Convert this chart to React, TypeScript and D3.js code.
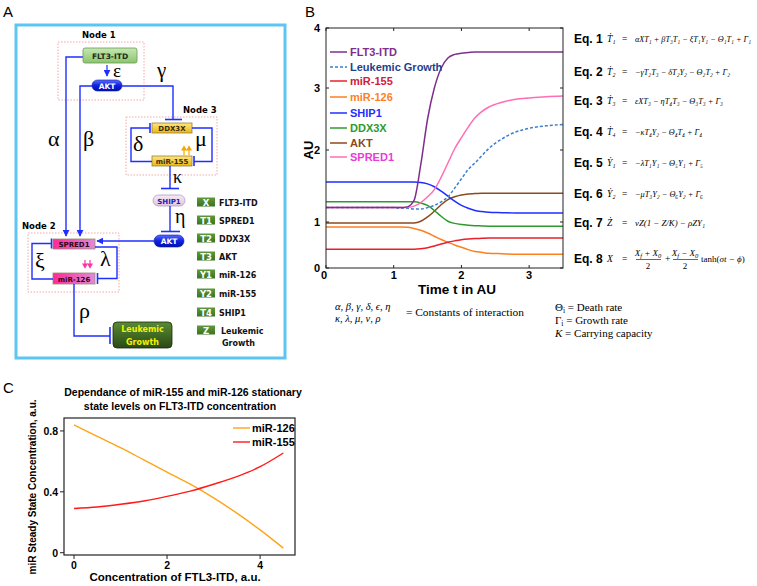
import React from 'react';
import * as d3 from 'd3';

// ---------- Panel B data ----------
const timeGrid = [0, 0.5, 1.0, 1.1, 1.2, 1.3, 1.4, 1.5, 1.6, 1.7, 1.8, 1.9, 2.0, 2.1, 2.2, 2.3, 2.4, 2.6, 2.8, 3.0, 3.25, 3.5];
const flt3Values = [1.2, 1.2, 1.2, 1.2, 1.21, 1.3, 1.8, 2.5, 3.0, 3.33, 3.5, 3.56, 3.58, 3.59, 3.6, 3.6, 3.6, 3.6, 3.6, 3.6, 3.6, 3.6];
const leukemicValues = [1.2, 1.2, 1.2, 1.19, 1.19, 1.18, 1.18, 1.2, 1.23, 1.28, 1.35, 1.47, 1.6, 1.73, 1.82, 1.92, 2.02, 2.18, 2.29, 2.35, 2.39, 2.41];
const mir155Values = [0.41, 0.41, 0.41, 0.41, 0.41, 0.41, 0.42, 0.44, 0.48, 0.52, 0.56, 0.59, 0.615, 0.63, 0.64, 0.645, 0.65, 0.65, 0.65, 0.65, 0.65, 0.65];
const mir126Values = [0.89, 0.89, 0.89, 0.89, 0.885, 0.86, 0.82, 0.76, 0.69, 0.62, 0.56, 0.5, 0.45, 0.4, 0.36, 0.34, 0.32, 0.31, 0.3, 0.3, 0.3, 0.3];
const ship1Values = [1.555, 1.555, 1.555, 1.555, 1.555, 1.555, 1.55, 1.53, 1.49, 1.43, 1.36, 1.29, 1.23, 1.19, 1.16, 1.145, 1.135, 1.13, 1.125, 1.125, 1.125, 1.125];
const ddx3xValues = [1.28, 1.28, 1.28, 1.28, 1.28, 1.28, 1.265, 1.23, 1.16, 1.08, 1.01, 0.97, 0.945, 0.93, 0.92, 0.915, 0.91, 0.91, 0.91, 0.91, 0.91, 0.91];
const aktValues = [0.98, 0.98, 0.98, 0.98, 0.98, 0.98, 1.01, 1.07, 1.15, 1.24, 1.31, 1.35, 1.375, 1.39, 1.395, 1.4, 1.4, 1.4, 1.4, 1.4, 1.4, 1.4];
const spred1Values = [1.2, 1.2, 1.2, 1.2, 1.2, 1.22, 1.27, 1.35, 1.45, 1.62, 1.82, 2.02, 2.2, 2.37, 2.52, 2.62, 2.69, 2.77, 2.82, 2.84, 2.86, 2.87];
const seriesNamesB = ['FLT3-ITD', 'Leukemic Growth', 'miR-155', 'miR-126', 'SHIP1', 'DDX3X', 'AKT', 'SPRED1'];
const yTicksB = [0, 1, 2, 3, 4];
const xTicksB = [0, 1, 2, 3];

// ---------- Panel C data ----------
const flt3Conc = [0, 0.5, 1, 1.5, 2, 2.5, 3, 3.5, 4, 4.5];
const mir126Steady = [0.84, 0.765, 0.69, 0.61, 0.53, 0.45, 0.36, 0.26, 0.15, 0.03];
const mir155Steady = [0.29, 0.3, 0.318, 0.34, 0.37, 0.405, 0.45, 0.5, 0.565, 0.655];
const seriesNamesC = ['miR-126', 'miR-155'];
const xTicksC = [0, 2, 4];
const yTicksC = [0, 0.4, 0.8];

// ---------- Panel A legend ----------
const legendACodes = ['X', 'T1', 'T2', 'T3', 'Y1', 'Y2', 'T4', 'Z'];
const legendANames = ['FLT3-ITD', 'SPRED1', 'DDX3X', 'AKT', 'miR-126', 'miR-155', 'SHIP1', 'Leukemic'];

// ---------- Equations ----------
const eqLhs = ['Ṫ₁', 'Ṫ₂', 'Ṫ₃', 'Ṫ₄', 'Ẏ₁', 'Ẏ₂', 'Ż'];
const eqRhs = [
  'αXT₁ + βT₃T₁ − ξT₁Y₁ − Θ₁T₁ + Γ₁',
  '−γT₂T₃ − δT₂Y₂ − Θ₂T₂ + Γ₂',
  'εXT₃ − ηT₄T₃ − Θ₃T₃ + Γ₃',
  '−κT₄Y₂ − Θ₄T₄ + Γ₄',
  '−λT₁Y₁ − Θ₅Y₁ + Γ₅',
  '−μT₃Y₂ − Θ₆Y₂ + Γ₆',
  'νZ(1 − Z/K) − ρZY₁',
];

const SANS = 'Liberation Sans, Arial, Helvetica, sans-serif';
const SERIF = 'Liberation Serif, DejaVu Serif, Times New Roman, serif';
const DEJA = 'DejaVu Sans, Verdana, sans-serif';
const BLUE = '#1f2fff';

function TBarV({ x, y1, y2 }: { x: number; y1: number; y2: number }) {
  return <line x1={x} x2={x} y1={y1} y2={y2} stroke={BLUE} strokeWidth={1.6} />;
}
function TBarH({ y, x1, x2 }: { y: number; x1: number; x2: number }) {
  return <line x1={x1} x2={x2} y1={y} y2={y} stroke={BLUE} strokeWidth={1.6} />;
}

export default function App() {
  // Panel B scales
  const xB = d3.scaleLinear().domain([0, 3.5]).range([326, 563]);
  const yB = d3.scaleLinear().domain(yTicksB).range([268, 222, 150, 88, 28]);
  const lineB = d3
    .line<number>()
    .x((_, i) => xB(timeGrid[i]))
    .y((d) => yB(d))
    .curve(d3.curveMonotoneX);
  const seriesB = [
    { name: seriesNamesB[0], values: flt3Values, color: '#7e2f8e', text: '#7e2f8e', dash: '' },
    { name: seriesNamesB[1], values: leukemicValues, color: '#3a7fd0', text: '#1f3f8f', dash: '3,2' },
    { name: seriesNamesB[2], values: mir155Values, color: '#e8202a', text: '#d0203a', dash: '' },
    { name: seriesNamesB[3], values: mir126Values, color: '#ff7f1f', text: '#ff7f1f', dash: '' },
    { name: seriesNamesB[4], values: ship1Values, color: '#1f2fff', text: '#1f2fff', dash: '' },
    { name: seriesNamesB[5], values: ddx3xValues, color: '#2e9a2e', text: '#2e9a2e', dash: '' },
    { name: seriesNamesB[6], values: aktValues, color: '#8b4a1f', text: '#8b4a1f', dash: '' },
    { name: seriesNamesB[7], values: spred1Values, color: '#ff6eb4', text: '#e83bd8', dash: '' },
  ];
  const drawOrder = [6, 5, 4, 3, 2, 1, 7, 0];

  // Panel C scales
  const xC = d3.scaleLinear().domain([-0.215, 4.75]).range([64, 295]);
  const yC = d3.scaleLinear().domain([-0.015, 0.885]).range([555, 418]);
  const lineC = d3
    .line<number>()
    .x((_, i) => xC(flt3Conc[i]))
    .y((d) => yC(d))
    .curve(d3.curveMonotoneX);
  const seriesC = [
    { name: seriesNamesC[0], values: mir126Steady, color: '#ffa31a' },
    { name: seriesNamesC[1], values: mir155Steady, color: '#ff1a1a' },
  ];

  const eqY = [39, 72, 101, 132, 163, 194, 223];
  const eqW = [116, 95, 88, 67, 68, 68, 70];

  return (
    <svg width={757} height={586} style={{ position: 'absolute', left: 0, top: 0, background: '#fff' }}>
      <defs>
        <marker id="arr" viewBox="0 0 10 10" refX="9" refY="5" markerWidth="7" markerHeight="7" markerUnits="userSpaceOnUse" orient="auto">
          <path d="M0,0 L10,5 L0,10 z" fill={BLUE} />
        </marker>
        <linearGradient id="gGreen" x1="0" y1="0" x2="0" y2="1">
          <stop offset="0" stopColor="#c6e8b2" />
          <stop offset="1" stopColor="#8cc46e" />
        </linearGradient>
        <linearGradient id="gBlue" x1="0" y1="0" x2="0" y2="1">
          <stop offset="0" stopColor="#5a6cff" />
          <stop offset="0.5" stopColor="#1020e0" />
          <stop offset="1" stopColor="#0010b0" />
        </linearGradient>
        <linearGradient id="gYellow" x1="0" y1="0" x2="0" y2="1">
          <stop offset="0" stopColor="#ffe680" />
          <stop offset="1" stopColor="#e8b810" />
        </linearGradient>
        <linearGradient id="gPink" x1="0" y1="0" x2="1" y2="0">
          <stop offset="0" stopColor="#ff2a96" />
          <stop offset="1" stopColor="#e08ad8" />
        </linearGradient>
        <linearGradient id="gShip" x1="0" y1="0" x2="0" y2="1">
          <stop offset="0" stopColor="#f6eaf4" />
          <stop offset="1" stopColor="#e6c4d8" />
        </linearGradient>
        <linearGradient id="gLeuk" x1="0" y1="0" x2="0" y2="1">
          <stop offset="0" stopColor="#5a8a34" />
          <stop offset="1" stopColor="#2a4a14" />
        </linearGradient>
        <linearGradient id="gCode" x1="0" y1="0" x2="0" y2="1">
          <stop offset="0" stopColor="#5e9a3a" />
          <stop offset="1" stopColor="#3c7222" />
        </linearGradient>
      </defs>

      {/* Panel letters */}
      <text x={3} y={17} fontFamily={SANS} fontSize={15}>A</text>
      <text x={305} y={17} fontFamily={SANS} fontSize={15}>B</text>
      <text x={3} y={393} fontFamily={SANS} fontSize={15}>C</text>

      {/* ================= Panel A ================= */}
      <rect x={16} y={25} width={269} height={333} fill="none" stroke="#5cc6f2" strokeWidth={3} />

      {/* Node boxes */}
      <rect x={58} y={42} width={86} height={58} fill="none" stroke="#f29090" strokeWidth={0.8} strokeDasharray="1.5,1.5" />
      <rect x={126} y={117} width={91} height={58} fill="none" stroke="#f29090" strokeWidth={0.8} strokeDasharray="1.5,1.5" />
      <rect x={28} y={233} width={91} height={59} fill="none" stroke="#f29090" strokeWidth={0.8} strokeDasharray="1.5,1.5" />
      <text x={82} y={38} fontFamily={DEJA} fontWeight="bold" fontSize={8.5}>Node 1</text>
      <text x={183} y={113} fontFamily={DEJA} fontWeight="bold" fontSize={8.5}>Node 3</text>
      <text x={22} y={229} fontFamily={DEJA} fontWeight="bold" fontSize={8.5}>Node 2</text>

      {/* alpha and beta paths */}
      <path d="M83,57 H66 V236" fill="none" stroke={BLUE} strokeWidth={1.4} markerEnd="url(#arr)" />
      <path d="M92,86 H80 V236" fill="none" stroke={BLUE} strokeWidth={1.4} markerEnd="url(#arr)" />
      <text x={48} y={146} fontFamily={SERIF} fontSize={22}>α</text>
      <text x={83} y={146} fontFamily={SERIF} fontSize={22}>β</text>

      {/* FLT3-ITD */}
      <rect x={83} y={48} width={54} height={15} rx={2} fill="url(#gGreen)" stroke="#6a9a5a" strokeWidth={0.8} />
      <text x={110} y={59} textAnchor="middle" fontFamily={DEJA} fontWeight="bold" fontSize={7.5} fill="#1a2a1a">FLT3-ITD</text>
      <line x1={107} x2={107} y1={65} y2={76} stroke={BLUE} strokeWidth={1.2} markerEnd="url(#arr)" />
      <text x={113} y={77} fontFamily={SERIF} fontSize={19}>ε</text>

      {/* AKT 1 */}
      <rect x={92} y={80} width={30} height={11} rx={5.5} fill="url(#gBlue)" stroke="#0a1a9a" strokeWidth={0.6} />
      <text x={107} y={88.5} textAnchor="middle" fontFamily={DEJA} fontWeight="bold" fontSize={7.5} fill="#fff">AKT</text>
      <text x={157} y={77} fontFamily={SERIF} fontSize={21}>γ</text>
      <path d="M122,86 H173 V119" fill="none" stroke={BLUE} strokeWidth={1.4} />
      <TBarH y={119.5} x1={165} x2={182} />

      {/* DDX3X / miR-155 */}
      <rect x={152} y={123} width={40} height={10} fill="url(#gYellow)" stroke="#9a8040" strokeWidth={0.8} />
      <text x={172} y={131} textAnchor="middle" fontFamily={DEJA} fontWeight="bold" fontSize={7} fill="#3a2a10">DDX3X</text>
      <rect x={152} y={156} width={40} height={10} fill="url(#gYellow)" stroke="#9a8040" strokeWidth={0.8} />
      <text x={172} y={164} textAnchor="middle" fontFamily={DEJA} fontWeight="bold" fontSize={7} fill="#3a2a10">miR-155</text>
      <path d="M152,161.5 H131 V128 H150" fill="none" stroke={BLUE} strokeWidth={1.4} />
      <TBarV x={150} y1={123} y2={133} />
      <path d="M192,128 H212 V161.5 H194" fill="none" stroke={BLUE} strokeWidth={1.4} />
      <TBarV x={194} y1={156} y2={166} />
      <text x={133} y={151} fontFamily={SERIF} fontSize={22}>δ</text>
      <text x={195} y={146} fontFamily={SERIF} fontSize={22}>μ</text>
      {/* orange up arrows */}
      <g stroke="#f5a800" strokeWidth={1.2} fill="#f5a800">
        <line x1={184} x2={184} y1={155} y2={149} />
        <path d="M182,150 L184,146.5 L186,150 z" />
        <line x1={189} x2={189} y1={155} y2={149} />
        <path d="M187,150 L189,146.5 L191,150 z" />
      </g>

      {/* kappa */}
      <line x1={170} x2={170} y1={166} y2={188} stroke={BLUE} strokeWidth={1.4} />
      <TBarH y={188.5} x1={161} x2={179} />
      <text x={173} y={183} fontFamily={SERIF} fontSize={18}>κ</text>

      {/* SHIP1 */}
      <rect x={153} y={195} width={32} height={11} rx={5.5} fill="url(#gShip)" stroke="#a8a0c8" strokeWidth={0.8} />
      <text x={169} y={203.5} textAnchor="middle" fontFamily={DEJA} fontWeight="bold" fontSize={7} fill="#2020c0">SHIP1</text>

      {/* eta */}
      <line x1={170} x2={170} y1={206} y2={231} stroke={BLUE} strokeWidth={1.4} />
      <TBarH y={231.5} x1={161} x2={180} />
      <text x={175} y={223} fontFamily={SERIF} fontSize={20}>η</text>

      {/* AKT 2 */}
      <rect x={154} y={235} width={30} height={12} rx={6} fill="url(#gBlue)" stroke="#0a1a9a" strokeWidth={0.6} />
      <text x={169} y={244} textAnchor="middle" fontFamily={DEJA} fontWeight="bold" fontSize={7.5} fill="#fff">AKT</text>
      <line x1={154} x2={97} y1={241} y2={241} stroke={BLUE} strokeWidth={1.4} markerEnd="url(#arr)" />

      {/* SPRED1 / miR-126 */}
      <rect x={53} y={239} width={42} height={10} fill="url(#gPink)" stroke="#9a8a70" strokeWidth={0.8} />
      <text x={74} y={247} textAnchor="middle" fontFamily={DEJA} fontWeight="bold" fontSize={7} fill="#2a0a1a">SPRED1</text>
      <rect x={53} y={273} width={42} height={11} fill="url(#gPink)" stroke="#9a8a70" strokeWidth={0.8} />
      <text x={74} y={281.5} textAnchor="middle" fontFamily={DEJA} fontWeight="bold" fontSize={7} fill="#2a0a1a">miR-126</text>
      <path d="M53,279 H32 V243.5 H51.5" fill="none" stroke={BLUE} strokeWidth={1.4} />
      <TBarV x={51.5} y1={238.5} y2={248.5} />
      <path d="M95,247 H117 V278.5 H97.5" fill="none" stroke={BLUE} strokeWidth={1.4} />
      <TBarV x={97.5} y1={273} y2={284} />
      <text x={35} y={268} fontFamily={SERIF} fontSize={22}>ξ</text>
      <text x={100} y={266} fontFamily={SERIF} fontSize={22}>λ</text>
      {/* pink down arrows */}
      <g stroke="#ff33aa" strokeWidth={1.2} fill="#ff33aa">
        <line x1={85} x2={85} y1={260} y2={265} />
        <path d="M83,264 L85,267.5 L87,264 z" />
        <line x1={90} x2={90} y1={260} y2={265} />
        <path d="M88,264 L90,267.5 L92,264 z" />
      </g>

      {/* rho */}
      <path d="M74,284 V336 H110" fill="none" stroke={BLUE} strokeWidth={1.4} />
      <TBarV x={110} y1={327} y2={344} />
      <text x={79} y={318} fontFamily={SERIF} fontSize={22}>ρ</text>
      <rect x={113} y={322} width={59} height={26} rx={4} fill="url(#gLeuk)" stroke="#1a2a0a" strokeWidth={0.8} />
      <text x={142.5} y={332} textAnchor="middle" fontFamily={DEJA} fontWeight="bold" fontSize={8} fill="#f2f200">Leukemic</text>
      <text x={142.5} y={345} textAnchor="middle" fontFamily={DEJA} fontWeight="bold" fontSize={8} fill="#f2f200">Growth</text>

      {/* Legend A */}
      {legendACodes.map((code, i) => {
        const cy = [202, 220, 238, 256, 274, 293, 312, 330][i];
        return (
          <g key={code}>
            <rect x={197} y={cy - 4.5} width={18} height={9} fill="url(#gCode)" />
            <text x={206} y={cy + 3.5} textAnchor="middle" fontFamily={DEJA} fontWeight="bold" fontSize={8.5} fill="#fff">{code}</text>
            <text x={code === 'Z' ? 221 : 219} y={cy + 3.5} fontFamily={DEJA} fontWeight="bold" fontSize={8} fill="#111">{legendANames[i]}</text>
          </g>
        );
      })}
      <text x={222} y={346} fontFamily={DEJA} fontWeight="bold" fontSize={8} fill="#111">Growth</text>

      {/* ================= Panel B ================= */}
      <g>
        {drawOrder.map((k) => (
          <path key={k} d={lineB(seriesB[k].values) || ''} fill="none" stroke={seriesB[k].color} strokeWidth={1.5} strokeDasharray={seriesB[k].dash} />
        ))}
        <rect x={326} y={28} width={237} height={240} fill="none" stroke="#222" strokeWidth={1} />
        {yTicksB.map((t) => (
          <g key={'yb' + t}>
            <line x1={326} x2={329} y1={yB(t)} y2={yB(t)} stroke="#222" />
            <line x1={560} x2={563} y1={yB(t)} y2={yB(t)} stroke="#222" />
            <text x={320} y={yB(t) + 4} textAnchor="end" fontFamily={SANS} fontWeight="bold" fontSize={11}>{t}</text>
          </g>
        ))}
        {xTicksB.map((t) => (
          <g key={'xb' + t}>
            <line x1={xB(t)} x2={xB(t)} y1={268} y2={265} stroke="#222" />
            <line x1={xB(t)} x2={xB(t)} y1={28} y2={31} stroke="#222" />
            <text x={t === 0 ? xB(t) - 2 : xB(t)} y={279} textAnchor="middle" fontFamily={SANS} fontWeight="bold" fontSize={11}>{t}</text>
          </g>
        ))}
        <text transform="translate(313,150) rotate(-90)" textAnchor="middle" fontFamily={SANS} fontWeight="bold" fontSize={13}>AU</text>
        <text x={457} y={294} textAnchor="middle" fontFamily={SANS} fontWeight="bold" fontSize={13.5}>Time t in AU</text>
        {seriesB.map((s, i) => {
          const y = [52, 67, 81, 97, 113, 128, 143, 157][i];
          return (
            <g key={'lb' + i}>
              <line x1={330} x2={347} y1={y} y2={y} stroke={s.color} strokeWidth={1.5} strokeDasharray={s.dash} />
              <text x={350} y={y + 4} fontFamily={SANS} fontWeight="bold" fontSize={11} fill={s.text}>{s.name}</text>
            </g>
          );
        })}
      </g>

      {/* Equations */}
      {eqLhs.map((lhs, i) => (
        <g key={'eq' + i}>
          <text x={574} y={eqY[i] + 4} fontFamily={SANS} fontWeight="bold" fontSize={12}>{'Eq. ' + (i + 1)}</text>
          <text x={607} y={eqY[i] + 3} fontFamily={SERIF} fontStyle="italic" fontSize={9.5}>{lhs}</text>
          <text x={622} y={eqY[i] + 3} fontFamily={SERIF} fontSize={9.5}>=</text>
          <text x={635} y={eqY[i] + 3} fontFamily={SERIF} fontStyle="italic" fontSize={8} textLength={eqW[i]} lengthAdjust="spacingAndGlyphs">{eqRhs[i]}</text>
        </g>
      ))}
      <g>
        <text x={574} y={263} fontFamily={SANS} fontWeight="bold" fontSize={12}>Eq. 8</text>
        <text x={607} y={262} fontFamily={SERIF} fontStyle="italic" fontSize={9.5}>X</text>
        <text x={622} y={262} fontFamily={SERIF} fontSize={9.5}>=</text>
        <text x={648} y={256} textAnchor="middle" fontFamily={SERIF} fontStyle="italic" fontSize={9}>X<tspan fontSize={6.5} dy={2}>f</tspan><tspan dy={-2}> + X</tspan><tspan fontSize={6.5} dy={2}>0</tspan></text>
        <line x1={636} x2={661} y1={259.5} y2={259.5} stroke="#000" strokeWidth={0.6} />
        <text x={648} y={269} textAnchor="middle" fontFamily={SERIF} fontSize={9}>2</text>
        <text x={665} y={262} fontFamily={SERIF} fontSize={9.5}>+</text>
        <text x={685} y={256} textAnchor="middle" fontFamily={SERIF} fontStyle="italic" fontSize={9}>X<tspan fontSize={6.5} dy={2}>f</tspan><tspan dy={-2}> − X</tspan><tspan fontSize={6.5} dy={2}>0</tspan></text>
        <line x1={673} x2={698} y1={259.5} y2={259.5} stroke="#000" strokeWidth={0.6} />
        <text x={685} y={269} textAnchor="middle" fontFamily={SERIF} fontSize={9}>2</text>
        <text x={701} y={262} fontFamily={SERIF} fontSize={9}>tanh(<tspan fontStyle="italic">σt − ϕ</tspan>)</text>
      </g>

      {/* Constants note */}
      <text x={335} y={310} fontFamily={SERIF} fontStyle="italic" fontSize={10.5}>α, β, γ, δ, ϵ, η</text>
      <text x={335} y={322} fontFamily={SERIF} fontStyle="italic" fontSize={10.5}>κ, λ, μ, ν, ρ</text>
      <text x={406} y={316} fontFamily={SERIF} fontSize={10.5} textLength={118} lengthAdjust="spacingAndGlyphs">= Constants of interaction</text>
      <text x={555} y={311} fontFamily={SERIF} fontSize={11}>Θ<tspan fontSize={7.5} dy={2}>i</tspan><tspan dy={-2}> = Death rate</tspan></text>
      <text x={555} y={324} fontFamily={SERIF} fontSize={11}>Γ<tspan fontSize={7.5} dy={2}>i</tspan><tspan dy={-2}> = Growth rate</tspan></text>
      <text x={555} y={337} fontFamily={SERIF} fontSize={11}><tspan fontStyle="italic">K</tspan> = Carrying capacity</text>

      {/* ================= Panel C ================= */}
      <text x={183} y={396} textAnchor="middle" fontFamily={SANS} fontWeight="bold" fontSize={10.5}>Dependance of miR-155 and miR-126 stationary</text>
      <text x={180} y={410} textAnchor="middle" fontFamily={SANS} fontWeight="bold" fontSize={10.5}>state levels on FLT3-ITD concentration</text>
      {seriesC.map((s) => (
        <path key={s.name} d={lineC(s.values) || ''} fill="none" stroke={s.color} strokeWidth={1.4} />
      ))}
      <rect x={64} y={418} width={231} height={137} fill="none" stroke="#222" strokeWidth={1.2} />
      {yTicksC.map((t) => (
        <g key={'yc' + t}>
          <line x1={60} x2={64} y1={yC(t)} y2={yC(t)} stroke="#222" />
          <text x={58} y={yC(t) + 4} textAnchor="end" fontFamily={SANS} fontWeight="bold" fontSize={10.5}>{t}</text>
        </g>
      ))}
      {xTicksC.map((t) => (
        <g key={'xc' + t}>
          <line x1={xC(t)} x2={xC(t)} y1={555} y2={559} stroke="#222" />
          <text x={xC(t)} y={569} textAnchor="middle" fontFamily={SANS} fontWeight="bold" fontSize={10.5}>{t}</text>
        </g>
      ))}
      <text transform="translate(36,487) rotate(-90)" textAnchor="middle" fontFamily={SANS} fontWeight="bold" fontSize={10}>miR Steady State Concentration, a.u.</text>
      <text x={175} y={581} textAnchor="middle" fontFamily={SANS} fontWeight="bold" fontSize={11.5}>Concentration of FTL3-ITD, a.u.</text>
      {seriesC.map((s, i) => {
        const y = [428, 442][i];
        return (
          <g key={'lc' + i}>
            <line x1={233} x2={250} y1={y} y2={y} stroke={s.color} strokeWidth={1.4} />
            <text x={252} y={y + 4} fontFamily={SANS} fontWeight="bold" fontSize={11}>{s.name}</text>
          </g>
        );
      })}
    </svg>
  );
}
